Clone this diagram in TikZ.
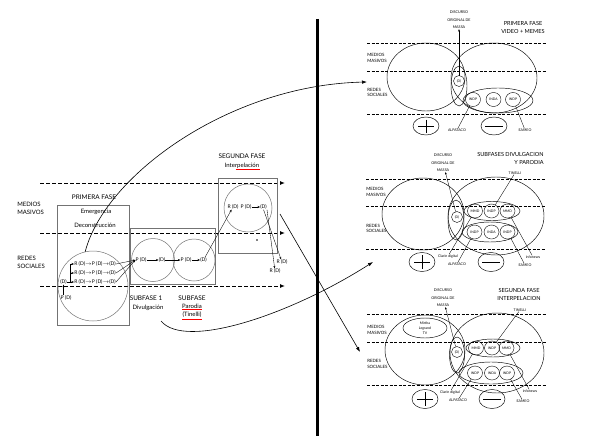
\documentclass[tikz,border=0pt]{standalone}
\usepackage{fontspec}
\setmainfont{Lato}
\usepackage{tikz}
\usetikzlibrary{shapes.geometric, arrows.meta, positioning, calc}

\begin{document}
\begin{tikzpicture}[x=1pt, y=-1pt,
    every node/.style={inner sep=0.3pt, outer sep=0pt},
    head/.style={font=\fontsize{6.4}{8.5}\selectfont, align=center},
    sub/.style={font=\fontsize{6}{8}\selectfont, align=center},
    side/.style={font=\fontsize{6}{8}\selectfont, align=left},
    eqn/.style={font=\fontsize{5}{6}\selectfont},
    ttl/.style={font=\fontsize{5.6}{8}\selectfont},
    lane/.style={font=\fontsize{4.4}{5.6}\selectfont, align=left},
    tag/.style={font=\fontsize{3.6}{4.5}\selectfont, align=center},
    disc/.style={font=\fontsize{3.7}{7.5}\selectfont, align=center},
    bub/.style={draw, ellipse, line width=0.4pt, minimum width=15, minimum height=14, inner sep=0pt, font=\fontsize{3.4}{4}\selectfont},
    dnode/.style={draw, circle, line width=0.4pt, minimum size=11, inner sep=0pt, font=\fontsize{3.4}{4}\selectfont},
    frame/.style={draw=black!55, line width=0.6pt},
    ring/.style={line width=0.45pt},
    pin/.style={line width=0.35pt},
    flow/.style={line width=1pt, dash pattern=on 4pt off 2pt, -{Latex[length=5pt, width=4pt]}},
    sep/.style={line width=0.9pt, dash pattern=on 3pt off 1.5pt},
    tip/.style={-{Stealth[length=2.5pt, width=2pt]}},
    jump/.style={line width=0.6pt, -{Latex[length=5pt, width=3.5pt]}}]
\useasboundingbox (0,0) rectangle (612,436);

% ---------------- left: phases ----------------
\foreach \n/\y in {a/183, b/233, c/286} {
    \coordinate (fl\n) at (40,\y);
    \coordinate (fr\n) at (285,\y);
    \draw[flow] (fl\n) -- (fr\n);
}
\node[side, anchor=west] (mm) at (17,208) {MEDIOS\\MASIVOS};
\node[side, anchor=west] (rs) at (17,262.5) {REDES\\SOCIALES};

% primera fase
\node[head] (pf) at (94,197) {PRIMERA FASE};
\node[frame, minimum width=72, minimum height=120] (box1) at (93,265) {};
\node[sub] (em) at (96,212) {Emergencia};
\node[sub] (dec) at (95,225) {Deconstrucción};
\node[draw=black!55, circle, line width=0.5pt, minimum size=70] (c1) at (93,286) {};
\node[eqn] (d0) at (63.5,282) {(D)};
\node[eqn] (pd0) at (66,298) {P (D)};
\foreach \i/\y in {1/264, 2/273, 3/282} {
    \node[eqn, anchor=west] (r\i) at (74,\y) {R (D)$\to$P (D)$\to$(D)};
    \coordinate (b\i) at (70,\y);
    \draw[pin, tip] (b\i) -- (r\i.west);
}
\draw[pin] (d0.east) -- (b3) -- (b1);
\draw[pin, tip] (pd0.north -| d0.south) -- (d0.south);

% subfases
\node[frame, minimum width=85, minimum height=56] (box2) at (173,256) {};
\node[draw=black!55, circle, line width=0.5pt, minimum size=43] (c2a) at (153,260) {};
\node[draw=black!55, circle, line width=0.5pt, minimum size=42] (c2b) at (194,260) {};
\node[eqn] (pd1) at (141,260) {P (D)};
\node[eqn] (d1) at (162,260) {(D)};
\node[eqn] (pd2) at (186,260) {P (D)};
\node[eqn] (d2) at (203.5,260) {(D)};
\foreach \i in {1,2,3}
    \draw[pin, tip] (r\i.east) -- (pd1.west);
\draw[pin, tip] (pd1) -- (d1);
\draw[pin, tip] (d1) -- (pd2);
\draw[pin, tip] (pd2) -- (d2);
\node[head] (sf1) at (146,298) {SUBFASE 1};
\node[sub] (div) at (148,308) {Divulgación};
\node[head] (sf2) at (192,298) {SUBFASE};
\node[sub] (par) at (192,306.5) {Parodia};
\node[sub] (tin) at (192,315) {(Tinelli)};
\draw[red, line width=0.3pt] ([yshift=-0.6pt]par.south west) -- ([yshift=-0.6pt]par.south east);
\draw[red, line width=0.3pt] ([yshift=-0.6pt]tin.south west) -- ([yshift=-0.6pt]tin.south east);

% segunda fase
\node[head] (sg) at (242,156) {SEGUNDA FASE};
\node[sub] (inter) at (242,166) {Interpelación};
\draw[red, line width=0.3pt] ([yshift=-0.6pt, xshift=12pt]inter.south west) -- ([yshift=-0.6pt]inter.south east);
\node[frame, minimum width=59, minimum height=75] (box3) at (247.5,215.5) {};
\node[draw=black!55, circle, line width=0.5pt, minimum size=48] (c3) at (248,208) {};
\node[eqn] (rd3) at (233,207) {R (D)};
\node[eqn] (pd3) at (246,207) {P (D)};
\node[eqn] (d3) at (263.5,207) {(D)};
\draw[pin, tip] (pd3) -- (d3);
\draw[pin, tip] (d2) -- (rd3);
\node[eqn] (ra) at (282,262) {R (D)};
\node[eqn] (rb) at (275,271) {R (D)};
\draw[pin, tip] (d3.south) -- (ra);
\draw[pin, tip] (d3.south east) -- (rb);
\fill (257,240) circle (0.8);

% jumps to the right
\coordinate (e1) at (367,82);
\draw[jump] (c1.103) .. controls (105,175) and (230,85) .. (e1);
\coordinate (s2) at (280,214);
\coordinate (e2) at (360,352);
\draw[jump] (s2) -- (e2);
\coordinate (s3) at (161,321);
\coordinate (e3) at (373,262);
\draw[jump] (s3) .. controls (185,350) and (290,315) .. (e3);

\draw[line width=3pt] (317,19) -- (317,436);

% ---------------- right: panel 1 ----------------
\foreach \y in {43,71,114}
    \draw[sep] (367,\y) -- (547,\y);
\node[lane, anchor=west] (mm1) at (367,58) {MEDIOS\\MASIVOS};
\node[lane, anchor=west] (rs1) at (367,92.5) {REDES\\SOCIALES};
\node[disc] (disc1) at (459,20) {DISCURSO\\ORIGINAL DE\\MASSA};
\node[ttl, align=center] (t1) at (523,27) {PRIMERA FASE\\VIDEO + MEMES};
\draw[ring] (426,77) ellipse [x radius=39, y radius=34];
\draw[ring] (494,78) ellipse [x radius=43, y radius=35];
\draw[ring] (459,86) ellipse [x radius=8, y radius=20];
\draw[ring] (498,100.5) ellipse [x radius=35, y radius=12.5];
\node[dnode] (dd1) at (459,81) {(D)};
\foreach \n/\x/\t in {a/473/INDP, b/493.5/INDA, c/513/INDP}
    \node[bub] (i1\n) at (\x,99.5) {\t};
\draw[pin, tip] (dd1) -- (disc1);
\draw[ring] (426,126) ellipse [x radius=13, y radius=9];
\draw[line width=0.6pt] (418,126) -- (434,126) (426,119.5) -- (426,132.5);
\draw[ring] (494,126) ellipse [x radius=13, y radius=9];
\draw[line width=0.6pt] (485,126) -- (503,126);
\node[tag] (alp1) at (457,130) {ALPATACO};
\node[tag] (eam1) at (525,130) {EAMEO};
\draw[pin] (alp1) -- (i1a);
\draw[pin] (eam1) -- (i1c);

% ---------------- right: panel 2 ----------------
\foreach \y in {179,206,249}
    \draw[sep] (366,\y) -- (546,\y);
\node[lane, anchor=west] (mm2) at (366,192) {MEDIOS\\MASIVOS};
\node[lane, anchor=west] (rs2) at (366,228.5) {REDES\\SOCIALES};
\node[disc] (disc2) at (443,163) {DISCURSO\\ORIGINAL DE\\MASSA};
\node[ttl, align=right, anchor=east] (t2) at (544,158.5) {SUBFASES DIVULGACION\\Y PARODIA};
\node[tag] (tin2) at (515,173) {TINELLI};
\draw[ring] (423,214) ellipse [x radius=41, y radius=36];
\draw[ring] (496,216) ellipse [x radius=48, y radius=39];
\draw[ring] (456,220) ellipse [x radius=8, y radius=20];
\draw[ring] (492,211) ellipse [x radius=28, y radius=9.5];
\draw[ring] (490,232) ellipse [x radius=28, y radius=10];
\node[dnode] (dd2) at (457,217) {(D)};
\foreach \n/\x/\t in {a/475/MMD, b/491.5/INDP, c/507.5/MMD}
    \node[bub] (u2\n) at (\x,211) {\t};
\foreach \n/\x/\t in {a/474.5/INDP, b/491.5/INDA, c/507.5/INDP}
    \node[bub] (l2\n) at (\x,232) {\t};
\draw[pin, tip] (dd2) -- (disc2);
\draw[ring] (422,262) ellipse [x radius=13, y radius=9.5];
\draw[line width=0.6pt] (414,262) -- (430,262) (422,255) -- (422,269);
\draw[ring] (491,262) ellipse [x radius=13, y radius=9.5];
\draw[line width=0.6pt] (482,262) -- (500,262);
\node[tag] (clar2) at (448,256) {Clarin digital};
\node[tag] (alp2) at (457,264) {ALPATACO};
\node[tag] (inf2) at (533,257) {infonews};
\node[tag] (eam2) at (525,265) {EAMEO};
\draw[pin] (tin2) -- (u2b);
\draw[pin] (clar2) -- (u2a);
\draw[pin] (alp2) -- (l2a);
\draw[pin] (inf2) -- (u2c);
\draw[pin] (eam2) -- (l2c);

% ---------------- right: panel 3 ----------------
\foreach \y in {314,342,385}
    \draw[sep] (367,\y) -- (546,\y);
\node[lane, anchor=west] (mm3) at (367,330) {MEDIOS\\MASIVOS};
\node[lane, anchor=west] (rs3) at (367,364) {REDES\\SOCIALES};
\node[disc] (disc3) at (443,298) {DISCURSO\\ORIGINAL DE\\MASSA};
\node[ttl, align=center] (t3) at (519,294) {SEGUNDA FASE\\INTERPELACION};
\node[tag] (tin3) at (520,310) {TINELLI};
\draw[ring] (425,350) ellipse [x radius=40, y radius=35];
\draw[ring] (425,328) ellipse [x radius=22, y radius=10];
\node[tag, font=\fontsize{3.5}{5}\selectfont] (mir) at (425,328) {Mirtha\\Legrand\\TV};
\draw[ring] (497,353) ellipse [x radius=47, y radius=40];
\draw[ring] (457,355) ellipse [x radius=7.5, y radius=18];
\draw[ring] (493,348) ellipse [x radius=27, y radius=9];
\draw[ring] (491,373) ellipse [x radius=32, y radius=11];
\node[dnode] (dd3) at (457,352) {(D)};
\foreach \n/\x/\t in {a/476/MMD, b/492/INDP, c/506.5/MMD}
    \node[bub] (u3\n) at (\x,348) {\t};
\foreach \n/\x/\t in {a/475/INDP, b/492/INDA, c/507/INDP}
    \node[bub] (l3\n) at (\x,373) {\t};
\draw[pin, tip] (dd3) -- (disc3);
\draw[ring] (425,399) ellipse [x radius=13, y radius=9.5];
\draw[line width=0.6pt] (417,399) -- (433,399) (425,392) -- (425,406);
\draw[ring] (492,399) ellipse [x radius=13, y radius=9.5];
\draw[line width=0.6pt] (483,399) -- (501,399);
\node[tag] (clar3) at (450,392) {Clarin digital};
\node[tag] (alp3) at (458,400) {ALPATACO};
\node[tag] (inf3) at (530,391) {infonews};
\node[tag] (eam3) at (523,401) {EAMEO};
\draw[pin] (tin3) -- (u3b);
\draw[pin] (clar3) -- (u3a);
\draw[pin] (alp3) -- (l3a);
\draw[pin] (inf3) -- (u3c);
\draw[pin] (eam3) -- (l3c);
\end{tikzpicture}
\end{document}
